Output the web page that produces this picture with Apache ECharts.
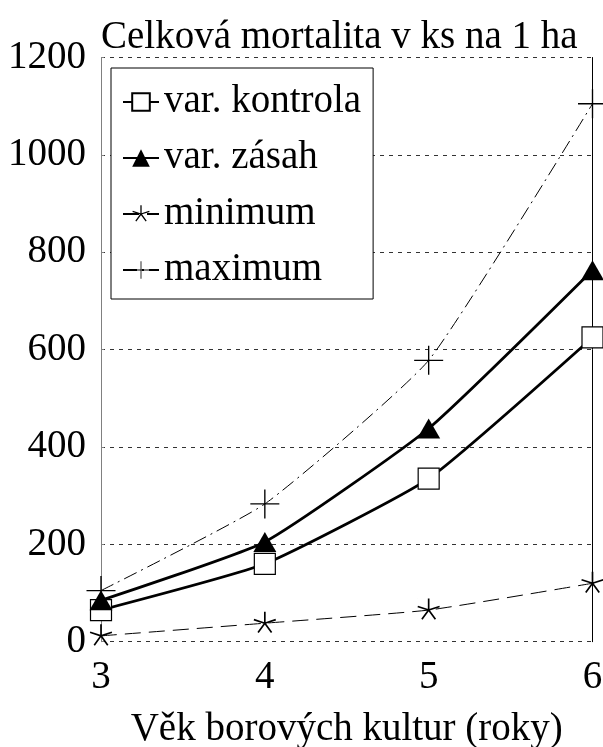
<!DOCTYPE html>
<html lang="cs">
<head>
<meta charset="UTF-8">
<style>
html, body { height: 100%; margin: 0; background: #fff; }
#chart { width: 603px; height: 747px; }
</style>
</head>
<body>
<div id="chart"></div>
<script src="https://cdn.jsdelivr.net/npm/echarts@6/dist/echarts.min.js"></script>
<script>
var years = ['3', '4', '5', '6'];
var kontrola = [65, 160, 335, 625];
var zasah = [85, 205, 438, 763];
var minimum = [12, 38, 65, 120];
var maximum = [105, 283, 578, 1105];

var font = 'Liberation Serif';
var fs = 39;

// five-armed asterisk built from thin bars
function starPath() {
    var d = '', r = 11, w = 0.8;
    for (var i = 0; i < 5; i++) {
        var a = (-90 + i * 72) * Math.PI / 180;
        var px = -Math.sin(a) * w, py = Math.cos(a) * w;
        var ex = Math.cos(a) * r, ey = Math.sin(a) * r;
        d += 'M' + (px).toFixed(2) + ',' + (py).toFixed(2) +
             'L' + (ex + px).toFixed(2) + ',' + (ey + py).toFixed(2) +
             'L' + (ex - px).toFixed(2) + ',' + (ey - py).toFixed(2) +
             'L' + (-px).toFixed(2) + ',' + (-py).toFixed(2) + 'Z';
    }
    return 'path://M-11,-11L-11,-10.9L-10.9,-11Z M11,11L11,10.9L10.9,11Z ' + d;
}
var plusPath = 'path://M0,14.3H30V15.7H0Z M14.3,0H15.7V30H14.3Z';

var myChart = echarts.init(document.getElementById('chart'));
myChart.setOption({
    animation: false,
    textStyle: { fontFamily: font, color: '#000' },
    title: {
        text: 'Celková mortalita v ks na 1 ha',
        left: 101,
        top: 18,
        padding: 0,
        textStyle: { fontFamily: font, fontSize: fs, fontWeight: 'normal', color: '#000' }
    },
    grid: {
        left: 101, right: 10.5, top: 57.5, bottom: 105.3,
        containLabel: false,
        outerBoundsMode: 'none'
    },
    legend: {
        orient: 'vertical',
        left: 111,
        top: 68,
        itemWidth: 36,
        itemHeight: 22,
        itemGap: 14,
        padding: [13, 12, 8, 11],
        borderColor: '#000',
        borderWidth: 1,
        borderRadius: 0,
        backgroundColor: '#fff',
        textStyle: { fontFamily: font, fontSize: fs, lineHeight: 42, color: '#000' },
        data: ['var. kontrola', 'var. zásah', 'minimum', 'maximum']
    },
    xAxis: {
        type: 'category',
        data: years,
        boundaryGap: false,
        axisLine: { show: false },
        axisTick: { show: false },
        axisLabel: { fontFamily: font, fontSize: fs, color: '#000', margin: 17 },
        name: 'Věk borových kultur (roky)',
        nameLocation: 'middle',
        nameGap: 69,
        nameTextStyle: { fontFamily: font, fontSize: fs, color: '#000' }
    },
    yAxis: [{
        type: 'value',
        min: 0,
        max: 1200,
        interval: 200,
        axisLine: { show: true, lineStyle: { color: '#808080', width: 1 } },
        axisTick: { show: true, inside: true, length: 3, lineStyle: { color: '#808080' } },
        axisLabel: {
            fontFamily: font, fontSize: fs, color: '#000', margin: 15,
            formatter: function (v) { return String(v); }
        },
        splitLine: { show: true, lineStyle: { color: '#333', width: 1, type: [4, 5] } }
    }, {
        type: 'value',
        position: 'right',
        min: 0,
        max: 1200,
        interval: 200,
        axisLine: { show: true, lineStyle: { color: '#000', width: 1 } },
        axisTick: { show: false },
        axisLabel: { show: false },
        splitLine: { show: false }
    }],
    series: [{
        name: 'var. kontrola',
        type: 'line',
        data: kontrola,
        smooth: 0.15,
        symbol: 'rect',
        symbolSize: 21,
        itemStyle: { color: '#fff', borderColor: '#000', borderWidth: 1.2 },
        lineStyle: { color: '#000', width: 2.8 },
        z: 3
    }, {
        name: 'var. zásah',
        type: 'line',
        data: zasah,
        smooth: 0.15,
        symbol: 'triangle',
        symbolSize: [23, 20],
        itemStyle: { color: '#000', borderWidth: 0 },
        lineStyle: { color: '#000', width: 2.8 },
        z: 4
    }, {
        name: 'minimum',
        type: 'line',
        data: minimum,
        smooth: 0.15,
        symbol: starPath(),
        symbolSize: 23,
        itemStyle: { color: '#000', borderWidth: 0 },
        lineStyle: { color: '#000', width: 1, type: [16, 8] },
        z: 2
    }, {
        name: 'maximum',
        type: 'line',
        data: maximum,
        smooth: 0.15,
        symbol: plusPath,
        symbolSize: 29,
        itemStyle: { color: '#000', borderWidth: 0 },
        lineStyle: { color: '#000', width: 1, type: [14, 5, 2, 5] },
        z: 2
    }]
});
</script>
</body>
</html>
